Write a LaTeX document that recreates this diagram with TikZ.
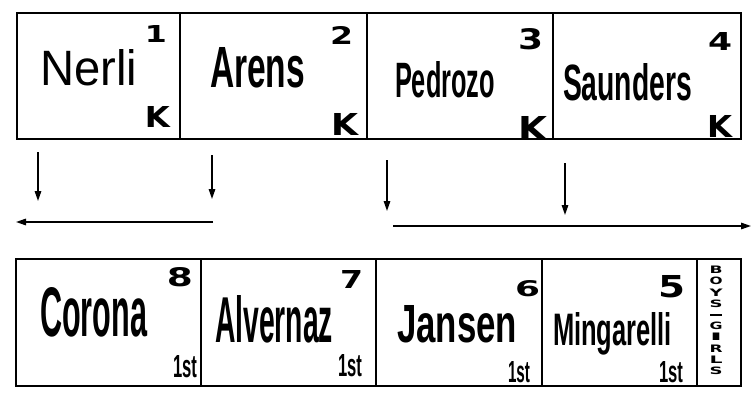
\documentclass[tikz,border=0pt]{standalone}
\usepackage{fontspec}
\usepackage{graphicx}
\setmainfont{Liberation Sans}
\newfontfamily\numfont{DejaVu Sans}
\usetikzlibrary{arrows.meta}
\newcommand{\fitwh}[3]{\resizebox{#1pt}{#2pt}{#3}}
\newcommand{\sq}[1]{\resizebox{13pt}{7.5pt}{\numfont\bfseries #1}}
\begin{document}
\begin{tikzpicture}[x=1pt,y=-1pt,
  cell/.style={draw,line width=1.6pt,rectangle,inner sep=0pt,outer sep=0pt,anchor=north west},
  nm/.style={inner sep=0pt,outer sep=0pt,anchor=base west,font=\bfseries},
  num/.style={inner sep=0pt,outer sep=0pt,anchor=south east,font=\numfont\bfseries},
  lt/.style={inner sep=0pt,outer sep=0pt,anchor=center},
  arr/.style={line width=1.5pt,-{Triangle[length=10pt,width=6.5pt]}}]
\useasboundingbox (0,0) rectangle (751,401);
% top row
\node[cell,minimum width=163pt,minimum height=126pt] (b1) at (17,13) {};
\node[cell,minimum width=187pt,minimum height=126pt] (b2) at (180,13) {};
\node[cell,minimum width=186pt,minimum height=126pt] (b3) at (367,13) {};
\node[cell,minimum width=188pt,minimum height=126pt] (b4) at (553,13) {};
% bottom row
\node[cell,minimum width=185pt,minimum height=127pt] (b8) at (16,259) {};
\node[cell,minimum width=175pt,minimum height=127pt] (b7) at (201,259) {};
\node[cell,minimum width=166pt,minimum height=127pt] (b6) at (376,259) {};
\node[cell,minimum width=155pt,minimum height=127pt] (b5) at (542,259) {};
\node[cell,minimum width=44pt,minimum height=127pt] (bg) at (697,259) {};
% names
\node[nm,font=\mdseries] (n1) at (40,85) {\fitwh{97}{36}{Nerli}};
\node[nm] (n2) at (210,88) {\fitwh{95}{40}{Arens}};
\node[nm] (n3) at (395,97) {\fitwh{100}{36}{Pedrozo}};
\node[nm] (n4) at (563,100) {\fitwh{129}{37}{Saunders}};
\node[nm] (n8) at (40,336) {\fitwh{107}{49}{Corona}};
\node[nm] (n7) at (215,342) {\fitwh{118}{47}{Alvernaz}};
\node[nm] (n6) at (397,342) {\fitwh{120}{37}{Jansen}};
\node[nm] (n5) at (553,345) {\fitwh{119}{33}{Mingarelli}};
% numbers
\node[num] (d1) at (167,43) {\fitwh{22}{17}{1}};
\node[num] (d2) at (353,45) {\fitwh{23}{18}{2}};
\node[num] (d3) at (543,50) {\fitwh{25}{21}{3}};
\node[num] (d4) at (732,51) {\fitwh{24}{18}{4}};
\node[num] (d8) at (193,287) {\fitwh{26}{19}{8}};
\node[num] (d7) at (363,288) {\fitwh{23}{18}{7}};
\node[num] (d6) at (540,297) {\fitwh{25}{16}{6}};
\node[num] (d5) at (685,298) {\fitwh{27}{22}{5}};
% K marks
\node[num] (k1) at (170,128) {\fitwh{25}{21}{K}};
\node[num] (k2) at (358,135) {\fitwh{27}{22}{K}};
\node[num] (k3) at (547,140) {\fitwh{29}{24}{K}};
\node[num] (k4) at (732,137) {\fitwh{25}{22}{K}};
% 1st marks
\node[nm,anchor=south east] (f8) at (197,378) {\fitwh{24}{22}{1st}};
\node[nm,anchor=south east] (f7) at (362,377) {\fitwh{24}{22}{1st}};
\node[nm,anchor=south east] (f6) at (530,383) {\fitwh{22}{21}{1st}};
\node[nm,anchor=south east] (f5) at (683,383) {\fitwh{24}{21}{1st}};
% boys/girls
\foreach \c/\i in {B/0,O/1,Y/2,S/3,G/5,I/6,R/7,L/8,S/9}
  \node[lt] (bg\i) at (716,{270+11.2*\i}) {\sq{\c}};
\node[lt] (bgd) at (716,{270+11.2*4}) {\rule{12pt}{1.8pt}};
% arrows
\coordinate (a1s) at (38,152); \coordinate (a1e) at (38,201);
\coordinate (a2s) at (212,155); \coordinate (a2e) at (212,199);
\coordinate (a3s) at (387,160); \coordinate (a3e) at (387,211);
\coordinate (a4s) at (565,163); \coordinate (a4e) at (565,215);
\coordinate (hls) at (213,222); \coordinate (hle) at (16,222);
\coordinate (hrs) at (393,226); \coordinate (hre) at (751,226);
\draw[arr] (a1s) -- (a1e);
\draw[arr] (a2s) -- (a2e);
\draw[arr] (a3s) -- (a3e);
\draw[arr] (a4s) -- (a4e);
\draw[arr] (hls) -- (hle);
\draw[arr] (hrs) -- (hre);
\end{tikzpicture}
\end{document}
